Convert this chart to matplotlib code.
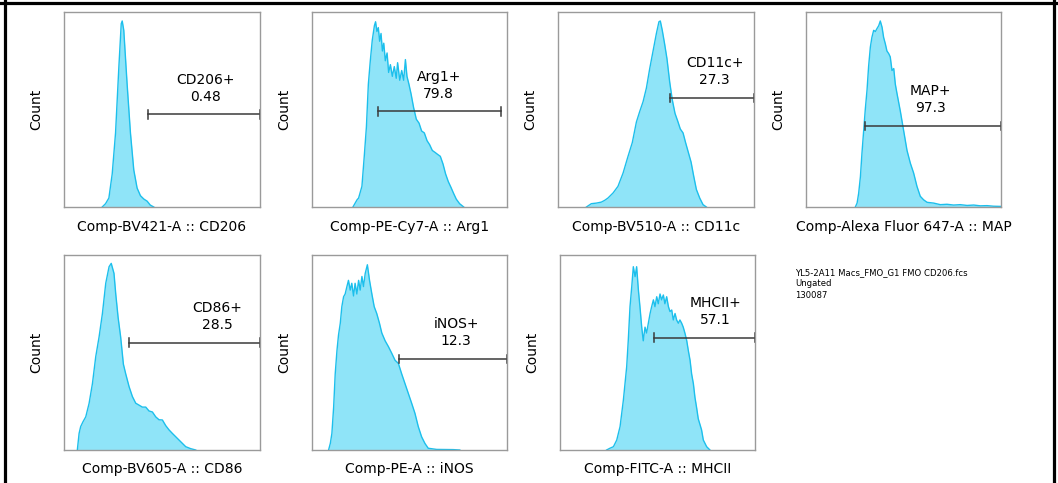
import matplotlib
matplotlib.use("Agg")
import matplotlib.pyplot as plt
from matplotlib.lines import Line2D

plt.rcParams['font.family'] = ['DejaVu Sans']

# channel axis (0-100) and count as % of mode, one histogram per marker
cd206_x = [19.5, 21.2, 22.9, 24.6, 26.3, 28.0, 29.2, 29.7, 30.5, 32.2, 33.9, 35.6, 37.3, 39.0, 40.7, 42.4, 44.0, 45.8]
cd206_y = [0, 1.7, 4.6, 17, 38, 72, 94, 95.4, 90.6, 63, 38, 19, 9.7, 5.8, 4.1, 3, 1, 0]

arg1_x = [21.0, 23.1, 23.9, 25.6, 26.8, 27.9, 28.9, 29.9, 30.9, 32.0, 32.6, 33.3, 34.0, 34.7, 35.4, 36.1,
          36.8, 37.6, 38.5, 39.3, 40.2, 41.2, 42.2, 43.2, 43.9, 45.0, 46.0, 47.0, 47.9, 48.7, 49.7, 50.8,
          52.1, 53.5, 54.9, 56.2, 57.6, 59.0, 60.3, 61.7, 63.1, 64.4, 65.8, 67.2, 68.5, 69.9, 71.3, 72.6,
          74.0, 75.7, 77.8]
arg1_y = [0, 3.7, 4.6, 10.6, 26, 41, 63, 75, 85.5, 93, 95, 90, 92, 85, 89, 80,
          84, 75, 79, 69, 73, 67, 72, 66, 74, 65, 70, 65, 75.6, 67, 63, 58,
          51, 45, 43, 39, 38, 34, 32, 29, 28, 27, 26, 22, 17, 13, 10, 7,
          4, 1.7, 0]

cd11c_x = [14.5, 17.0, 19.6, 22.1, 23.8, 25.5, 28.1, 30.6, 33.2, 35.7, 37.9, 40.0, 41.7, 43.4, 45.1, 46.8,
           48.5, 50.2, 51.5, 52.2, 53.2, 54.4, 55.6, 57.0, 58.3, 59.7, 61.1, 62.4, 63.8, 65.1, 66.5, 67.9,
           69.2, 70.6, 72.3, 74.0, 75.7]
cd11c_y = [0, 1.7, 2, 2.5, 3.4, 4.6, 7.2, 10.6, 17.4, 25.9, 33, 43.6, 49, 54, 61, 71,
           80, 89, 95, 95.4, 90.6, 83.6, 76, 64, 55, 48, 44, 40, 38, 33, 28, 23,
           16, 9, 4.6, 1.2, 0]

map_x = [25.3, 26.2, 27.0, 27.9, 28.7, 29.6, 30.4, 31.3, 32.1, 33.0, 33.8, 34.7, 35.6, 36.4, 37.3, 38.1,
         39.0, 39.8, 40.7, 41.5, 42.4, 43.2, 44.1, 45.0, 45.8, 46.7, 48.4, 50.1, 51.8, 53.5, 55.2, 56.9,
         58.6, 60.3, 62.1, 65.5, 68.9, 72.3, 75.7, 79.1, 82.6, 86.0, 89.4, 92.8, 96.2, 100]
map_y = [0, 2, 7, 15.5, 27.6, 39.5, 50, 60, 72, 82, 87, 90.6, 90, 91.5, 93, 95.4,
         92.2, 87, 83.6, 80, 78.7, 77, 70, 71, 63, 58, 49, 39, 29, 22.5, 17.4, 10.6,
         5.5, 3.7, 2.4, 2, 1.2, 1.4, 1, 1.2, 0.8, 1, 0.6, 0.7, 0.4, 0.3]

cd86_x = [6.8, 7.7, 8.5, 9.7, 11.1, 12.8, 14.5, 16.2, 17.9, 19.6, 21.3, 23.0, 24.1, 25.5, 26.4, 27.6,
          28.9, 30.3, 31.5, 33.2, 34.9, 36.6, 38.3, 40.0, 41.7, 43.4, 45.1, 46.8, 48.5, 50.2, 51.9, 53.6,
          55.3, 57.0, 58.7, 60.4, 62.1, 64.6, 67.2]
cd86_y = [0, 8.5, 12, 14.5, 17, 23.9, 34, 47.9, 58, 70, 85.5, 94, 95.7, 90.6, 80, 68,
          58, 44, 39, 32.5, 27.4, 24, 23, 22, 22, 20, 19.5, 17, 15.5, 15.4, 12.5, 10.3,
          8.5, 6.8, 5.1, 3.4, 1.7, 0.7, 0]

inos_x = [8.5, 9.4, 10.2, 11.1, 11.9, 12.8, 13.6, 14.5, 15.3, 16.2, 17.0, 17.9, 18.7, 19.6, 20.4, 21.3,
          22.1, 23.0, 23.9, 24.7, 25.6, 26.4, 27.3, 28.4, 29.5, 30.7, 31.9, 33.2, 34.6, 35.8, 37.5, 39.2,
          40.9, 42.6, 44.3, 46.0, 47.7, 49.4, 51.1, 52.8, 54.5, 56.2, 57.9, 59.6, 63.9, 72.4, 75.8]
inos_y = [0, 3.4, 8.5, 22, 39, 51, 59, 65, 73.5, 78.6, 80, 83.8, 87, 82, 85.5, 79,
          85.5, 80, 87, 82, 89, 83.8, 90.6, 95, 87, 80, 73.5, 70, 65, 60, 56, 53,
          49.6, 46, 44.4, 39, 34, 29, 24, 18.8, 12, 6.8, 3.4, 0.9, 0.3, 0.2, 0]

mhcii_x = [23.9, 25.6, 27.4, 29.1, 30.8, 32.5, 34.2, 35.0, 35.9, 36.8, 37.6, 38.5, 39.3, 40.2, 41.0, 41.9,
           42.7, 43.6, 44.4, 45.3, 46.2, 47.0, 47.9, 48.7, 49.6, 50.4, 51.3, 52.1, 53.0, 53.8, 54.7, 55.6,
           56.4, 57.3, 58.1, 59.0, 59.8, 60.7, 61.5, 62.4, 63.2, 64.1, 65.0, 65.8, 66.7, 67.5, 68.4, 69.2,
           70.1, 70.9, 71.8, 72.6, 73.5, 75.2, 76.9]
mhcii_y = [0, 0.9, 1.7, 5.1, 12, 25.6, 42.7, 56, 73.5, 83.8, 94, 88.9, 94, 82, 73.5, 63,
           56, 63, 60, 65, 70, 73.5, 77, 73.5, 78.6, 75, 80, 77, 79.5, 75, 78.6, 73.5,
           71, 71.8, 66.7, 70, 66.7, 65, 66.7, 65, 63, 59.8, 56, 51, 46, 39, 34, 27,
           21.4, 16, 13, 10.3, 5.1, 1.7, 0]

xlabels = ["Comp-BV421-A :: CD206", "Comp-PE-Cy7-A :: Arg1", "Comp-BV510-A :: CD11c",
           "Comp-Alexa Fluor 647-A :: MAP", "Comp-BV605-A :: CD86", "Comp-PE-A :: iNOS",
           "Comp-FITC-A :: MHCII"]
gate_names = ["CD206+", "Arg1+", "CD11c+", "MAP+", "CD86+", "iNOS+", "MHCII+"]
gate_pct = ["0.48", "79.8", "27.3", "97.3", "28.5", "12.3", "57.1"]
gate_lo = [42.7, 33.7, 57.0, 30.1, 33.2, 44.8, 48.2]
gate_hi = [100, 96.8, 100, 100, 100, 100, 100]
gate_y = [47.5, 49, 56, 41.6, 55, 46.7, 57.6]
label_x = [72, 65, 80, 63.8, 78, 74, 79.5]

hist_x = [cd206_x, arg1_x, cd11c_x, map_x, cd86_x, inos_x, mhcii_x]
hist_y = [cd206_y, arg1_y, cd11c_y, map_y, cd86_y, inos_y, mhcii_y]

W, H = 1058, 483
fig = plt.figure(figsize=(W / 100, H / 100), dpi=100)

# panel boxes in pixels: left, top, right, bottom
boxes = [(64, 12, 260, 207), (312, 12, 507, 207), (558, 12, 754, 207), (806, 12, 1001, 207),
         (64, 255, 260, 450), (312, 255, 507, 450), (560, 255, 755, 450)]

fill_c = "#8fe4f8"
edge_c = "#1cbfec"
gate_c = "#3a3a3a"

for i, (l, t, r, b) in enumerate(boxes):
    ax = fig.add_axes([l / W, 1 - b / H, (r - l) / W, (b - t) / H])
    x, y = hist_x[i], hist_y[i]
    ax.fill_between(x, y, 0, color=fill_c, lw=0)
    ax.plot(x, y, color=edge_c, lw=1.0)
    ax.set_xlim(0, 100)
    ax.set_ylim(0, 100)
    ax.set_xticks([])
    ax.set_yticks([])
    for s in ax.spines.values():
        s.set_color("#9a9a9a")
        s.set_linewidth(1.0)
    ax.set_xlabel(xlabels[i], fontsize=10, labelpad=9)
    ax.set_ylabel("Count", fontsize=10, labelpad=15)

    # gate bar with end caps
    gy = gate_y[i]
    ax.plot([gate_lo[i], gate_hi[i]], [gy, gy], color=gate_c, lw=1.1, clip_on=False)
    for gx in (gate_lo[i], gate_hi[i]):
        ax.plot([gx, gx], [gy - 2.2, gy + 2.2], color=gate_c, lw=1.1, clip_on=False)
    ax.text(label_x[i], gy + 5.5, gate_names[i] + "\n" + gate_pct[i], ha="center", va="bottom",
            fontsize=10, linespacing=1.25)

fig.text(795 / W, 1 - 268 / H, "YL5-2A11 Macs_FMO_G1 FMO CD206.fcs\nUngated\n130087",
         fontsize=6.1, va="top", ha="left", linespacing=1.35)

# outer frame on left, top and right
for xs, ys in [([4.5, 4.5], [0, H]), ([0, W], [2.5, 2.5]), ([1054, 1054], [0, H])]:
    fig.add_artist(Line2D([v / W for v in xs], [1 - v / H for v in ys], color="black", lw=2.3))

fig.savefig("out.png", dpi=100)
